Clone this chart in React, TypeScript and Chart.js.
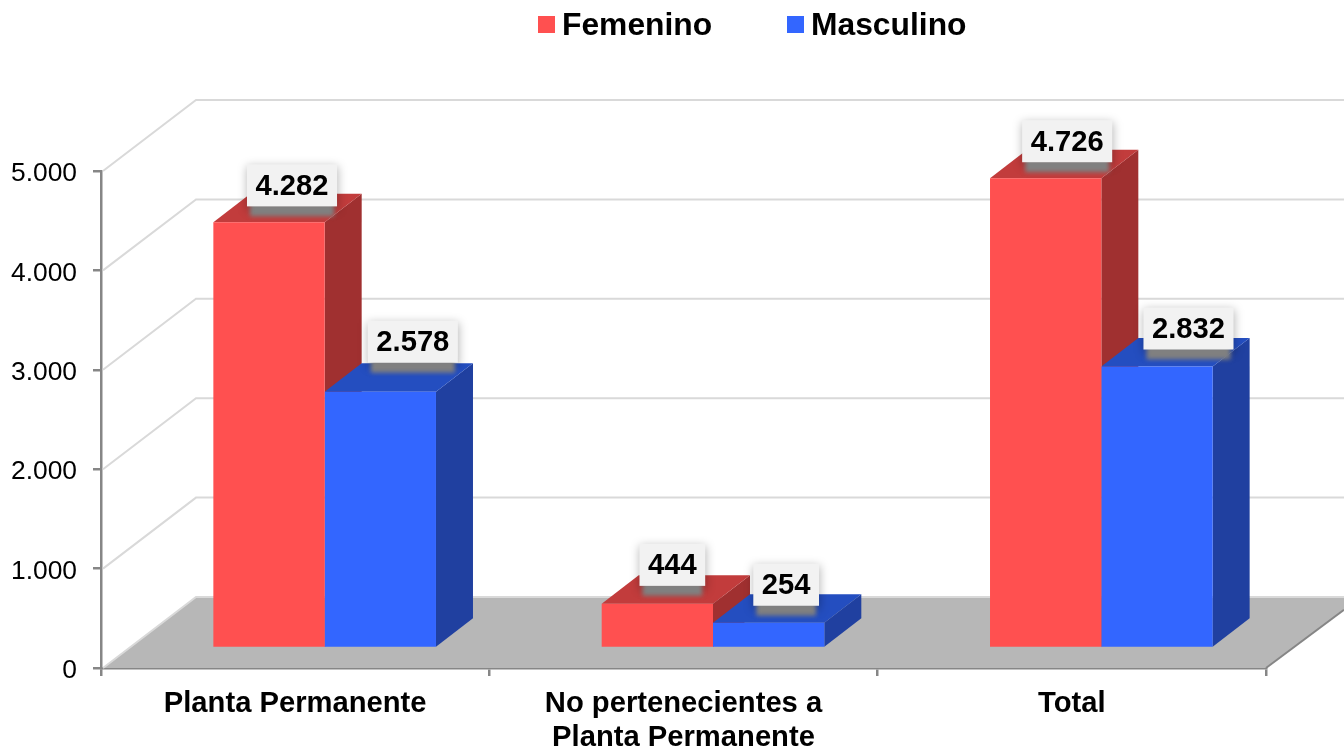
import React, { useEffect, useRef } from "react";
import { Chart, registerables } from "chart.js";

Chart.register(...registerables);

const categories = ["Planta Permanente", ["No pertenecientes a", "Planta Permanente"], "Total"];
const femenino = [4282, 444, 4726];
const masculino = [2578, 254, 2832];
const seriesNames = ["Femenino", "Masculino"];

const FONT = '"Liberation Sans", Arial, sans-serif';
const WALL = { dx: 95, dy: -71 };
const BAR_SHIFT = { dx: 29.5, dy: -20 };
const BAR_DEPTH = { dx: 37, dy: -28.5 };
const FACE_COLORS = [
  { front: "#FF5050", top: "#C23C3C", side: "#A03030" },
  { front: "#3366FF", top: "#244EC0", side: "#2040A0" },
];
const GRID = "#D9D9D9";
const AXIS = "#868686";
const FLOOR = "#B7B7B7";
// hand-placed data label offsets, from the top centre of each bar's front face
const LABEL_OFFSET_X = [[23.5, 15.5, 22], [33, 18, 32]];
const LABEL_OFFSET_Y = [[-37, -39, -37], [-50, -38, -38]];
const LEGEND_X = [538, 787];

const fmt = (v: number) => String(v).replace(/\B(?=(\d{3})+(?!\d))/g, ".");

const poly = (ctx: any, pts: number[][], fill: string) => {
  ctx.beginPath();
  pts.forEach((p, i) => (i ? ctx.lineTo(p[0], p[1]) : ctx.moveTo(p[0], p[1])));
  ctx.closePath();
  ctx.fillStyle = fill;
  ctx.fill();
};

const scene3d = {
  id: "scene3d",
  beforeDatasetsDraw(chart: any) {
    const { ctx, chartArea: a, scales } = chart;
    const W = chart.width;
    const y0 = scales.y.getPixelForValue(0);
    ctx.save();

    // floor
    const slope = WALL.dy / WALL.dx;
    const rightY = y0 + (W - a.right) * slope;
    poly(ctx, [[a.left + 2, y0], [a.left + WALL.dx, y0 + WALL.dy], [W, y0 + WALL.dy], [W, rightY], [a.right, y0]], FLOOR);

    // walls
    ctx.strokeStyle = GRID;
    ctx.lineWidth = 2;
    scales.y.ticks.forEach((t: any) => {
      const y = scales.y.getPixelForValue(t.value);
      ctx.beginPath();
      ctx.moveTo(a.left + 2, y);
      ctx.lineTo(a.left + WALL.dx, y + WALL.dy);
      ctx.lineTo(W, y + WALL.dy);
      ctx.stroke();
    });

    // floor front-right edge
    ctx.strokeStyle = AXIS;
    ctx.beginPath();
    ctx.moveTo(a.right, y0);
    ctx.lineTo(W, rightY);
    ctx.stroke();

    // top and side faces of every bar
    const { dx, dy } = BAR_DEPTH;
    chart.data.datasets.forEach((_: any, i: number) => {
      const c = FACE_COLORS[i];
      chart.getDatasetMeta(i).data.forEach((bar: any) => {
        const l = bar.x - bar.width / 2 + BAR_SHIFT.dx;
        const r = bar.x + bar.width / 2 + BAR_SHIFT.dx;
        const t = bar.y + BAR_SHIFT.dy;
        const b = bar.base + BAR_SHIFT.dy;
        poly(ctx, [[r, t], [r + dx, t + dy], [r + dx, b + dy], [r, b]], c.side);
        poly(ctx, [[l, t], [l + dx, t + dy], [r + dx, t + dy], [r, t]], c.top);
      });
    });
    ctx.restore();

    // front faces are drawn by Chart.js itself, moved onto the floor
    ctx.save();
    ctx.translate(BAR_SHIFT.dx, BAR_SHIFT.dy);
  },
  afterDatasetsDraw(chart: any) {
    const { ctx } = chart;
    ctx.restore();

    // data labels
    ctx.save();
    ctx.font = `bold 29.2px ${FONT}`;
    ctx.textAlign = "center";
    ctx.textBaseline = "middle";
    chart.data.datasets.forEach((ds: any, i: number) => {
      chart.getDatasetMeta(i).data.forEach((bar: any, j: number) => {
        const text = fmt(ds.data[j]);
        const cx = bar.x + BAR_SHIFT.dx + LABEL_OFFSET_X[i][j] - 0.5;
        const cy = bar.y + BAR_SHIFT.dy + LABEL_OFFSET_Y[i][j];
        const w = ctx.measureText(text).width + 17;
        const h = 42;
        const x = cx - w / 2;
        const y = cy - h / 2;
        ctx.save();
        ctx.filter = "blur(5px)";
        ctx.fillStyle = "rgba(0,0,0,0.28)";
        ctx.fillRect(x, y + 2, w + 1, h + 2);
        ctx.filter = "blur(2px)";
        ctx.fillStyle = "#808080";
        ctx.fillRect(x + 3, y + h - 4, w - 6, 14);
        ctx.restore();
        ctx.fillStyle = "#F2F2F2";
        ctx.fillRect(x, y, w, h);
        ctx.fillStyle = "#000000";
        ctx.fillText(text, cx, cy + 1.5);
      });
    });
    ctx.restore();

    // legend
    ctx.save();
    ctx.font = `bold 31.8px ${FONT}`;
    ctx.textBaseline = "alphabetic";
    ctx.textAlign = "left";
    chart.data.datasets.forEach((ds: any, i: number) => {
      ctx.fillStyle = ds.backgroundColor;
      ctx.fillRect(LEGEND_X[i], 16, 17, 17);
      ctx.fillStyle = "#000000";
      ctx.fillText(ds.label, LEGEND_X[i] + 24, 34.5);
    });
    ctx.restore();
  },
};

export default function App() {
  const ref = useRef<HTMLCanvasElement>(null);
  useEffect(() => {
    const chart = new Chart(ref.current as any, {
      type: "bar",
      data: {
        labels: categories as any,
        datasets: [
          { label: seriesNames[0], data: femenino, backgroundColor: FACE_COLORS[0].front, clip: false as any },
          { label: seriesNames[1], data: masculino, backgroundColor: FACE_COLORS[1].front, clip: false as any },
        ],
      },
      options: {
        responsive: false,
        animation: false,
        devicePixelRatio: 1,
        layout: { padding: { top: 171, right: 78, bottom: 0, left: 0 } },
        datasets: { bar: { barPercentage: 1, categoryPercentage: 0.5733 } },
        plugins: { legend: { display: false }, tooltip: { enabled: false }, title: { display: false } },
        scales: {
          x: {
            afterFit: (s: any) => { s.height = 80; },
            grid: { drawOnChartArea: false, color: AXIS, lineWidth: 2.5, tickLength: 8, offset: true },
            border: { color: AXIS, width: 2.5 },
            ticks: {
              color: "#000000",
              font: { family: FONT, size: 29.2, weight: "bold", lineHeight: 34 / 29.2 },
              padding: 11,
              maxRotation: 0,
              minRotation: 0,
              autoSkip: false,
            },
          },
          y: {
            min: 0,
            max: 5000,
            afterFit: (s: any) => { s.width = 101; },
            grid: { drawOnChartArea: false, color: AXIS, lineWidth: 2.5, tickLength: 8 },
            border: { color: AXIS, width: 2.5 },
            ticks: {
              stepSize: 1000,
              color: "#000000",
              font: { family: FONT, size: 26.4 },
              padding: 16,
              labelOffset: 3,
              callback: (v: any) => fmt(Number(v)),
            },
          },
        },
      },
      plugins: [scene3d],
    } as any);
    return () => chart.destroy();
  }, []);
  return <canvas ref={ref} width={1344} height={748} style={{ position: "fixed", left: 0, top: 0, display: "block" }} />;
}
